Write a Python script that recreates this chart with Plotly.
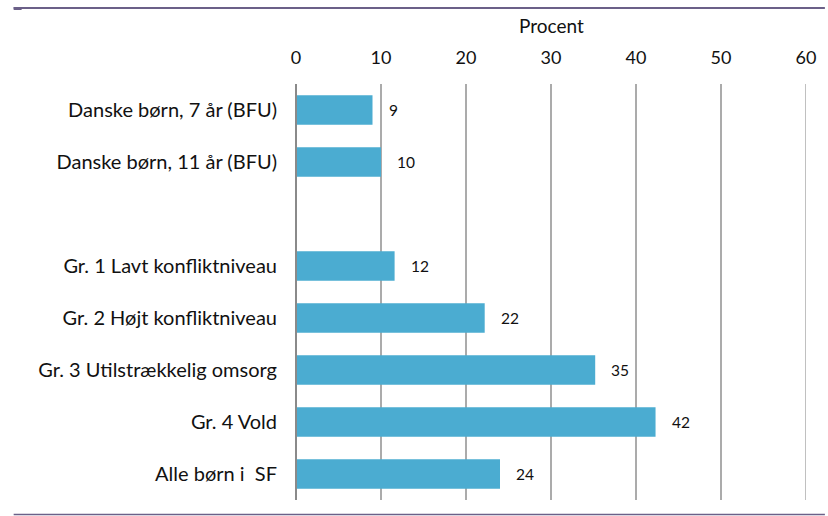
import plotly.graph_objects as go

categories = [
    "Danske børn, 7 år (BFU)",
    "Danske børn, 11 år (BFU)",
    " ",
    "Gr. 1 Lavt konfliktniveau",
    "Gr. 2 Højt konfliktniveau",
    "Gr. 3 Utilstrækkelig omsorg",
    "Gr. 4 Vold",
    "Alle børn i  SF",
]
values = [9.0, 10.0, None, 11.6, 22.2, 35.2, 42.3, 24.0]
value_labels = ["9", "10", "", "12", "22", "35", "42", "24"]
x_ticks = [0, 10, 20, 30, 40, 50, 60]

FONT = "Lato"
BAR = "#4BACD1"
LINE = "#6B6088"
GRID = "#ABABAB"

fig = go.Figure()
fig.add_trace(go.Bar(
    y=categories, x=values, orientation="h",
    marker=dict(color=BAR, line=dict(width=0)),
    width=0.57, hoverinfo="skip",
))

annotations = []
for c, v, t in zip(categories, values, value_labels):
    if v is None:
        continue
    annotations.append(dict(
        x=v, y=c, xref="x", yref="y", text=t, showarrow=False,
        xanchor="left", yanchor="middle", xshift=14,
        font=dict(family=FONT, size=15.5, color="#111111"),
    ))
annotations.append(dict(
    x=0.5, y=1, xref="paper", yref="paper", yshift=45, text="Procent",
    showarrow=False, xanchor="center", yanchor="bottom",
    font=dict(family=FONT, size=19, color="#111111"),
))

shapes = [
    dict(type="line", xref="x", yref="paper", x0=x_ticks[-1], x1=x_ticks[-1],
         y0=0, y1=1, line=dict(color=GRID, width=1.5)),
    dict(type="line", xref="paper", yref="paper", x0=0, x1=0, y0=0, y1=1,
         line=dict(color="#8A8A8A", width=2)),
    dict(type="line", xref="paper", yref="paper",
         x0=-284/513, x1=1 + 19/513, y0=1 + 76/416, y1=1 + 76/416,
         line=dict(color=LINE, width=2)),
    dict(type="rect", xref="paper", yref="paper",
         x0=-284/513, x1=-276/513, y0=1 + 74/416, y1=1 + 77/416,
         fillcolor=LINE, line=dict(width=0)),
    dict(type="line", xref="paper", yref="paper",
         x0=-284/513, x1=1 + 19/513, y0=-14.5/416, y1=-14.5/416,
         line=dict(color=LINE, width=1.5)),
]

fig.update_layout(
    width=828, height=516,
    margin=dict(l=296, r=19, t=84, b=16),
    paper_bgcolor="white", plot_bgcolor="white",
    showlegend=False,
    font=dict(family=FONT, color="#111111"),
    annotations=annotations,
    shapes=shapes,
    xaxis=dict(
        side="top", range=[0, 60], tickvals=x_ticks,
        tickfont=dict(family=FONT, size=18, color="#111111"),
        showgrid=True, gridcolor=GRID, gridwidth=1.5,
        zeroline=False, showline=False, ticks="", ticklabelstandoff=15,
        fixedrange=True,
    ),
    yaxis=dict(
        type="category", categoryorder="array", categoryarray=categories,
        autorange="reversed",
        tickfont=dict(family=FONT, size=20, color="#111111"),
        showgrid=False, zeroline=False, showline=False, ticks="",
        ticklabelstandoff=18, fixedrange=True,
    ),
)

fig.write_html(
    "out.html",
    config={"displayModeBar": False},
    post_script="document.body.style.margin='0px';document.body.style.overflow='hidden';",
)
